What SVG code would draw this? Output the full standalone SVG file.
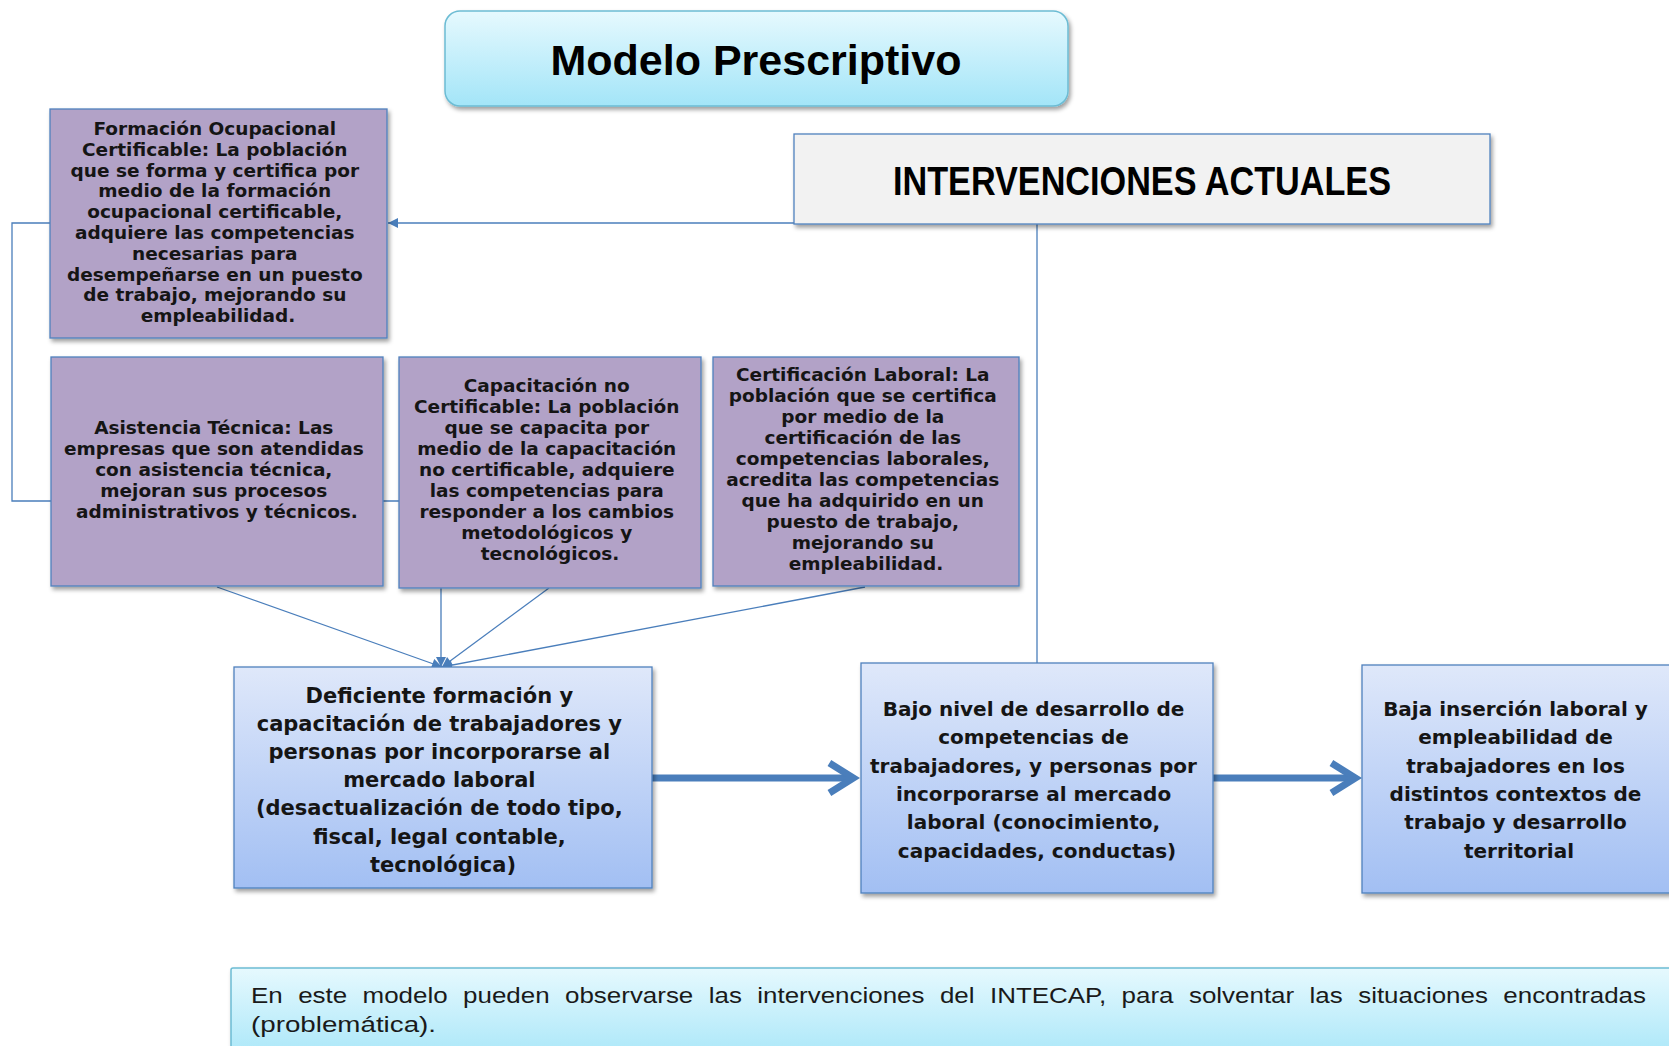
<svg xmlns="http://www.w3.org/2000/svg" width="1669" height="1046" viewBox="0 0 1669 1046">
<defs>
<linearGradient id="gCyan" x1="0" y1="0" x2="0" y2="1"><stop offset="0" stop-color="#e6f9fe"/><stop offset="1" stop-color="#a3e5f8"/></linearGradient>
<linearGradient id="gBlue" x1="0" y1="0" x2="0" y2="1"><stop offset="0" stop-color="#dfe8fa"/><stop offset="1" stop-color="#a2bff3"/></linearGradient>
<filter id="sh" x="-10%" y="-10%" width="125%" height="130%"><feDropShadow dx="2" dy="3" stdDeviation="2" flood-color="#000" flood-opacity="0.38"/></filter>
<marker id="tri" viewBox="0 0 10 10" refX="10" refY="5" markerWidth="11" markerHeight="10" markerUnits="userSpaceOnUse" orient="auto"><path d="M0,0 L10,5 L0,10 z" fill="#4a7ebb"/></marker>
<marker id="chev" viewBox="0 0 40 40" refX="30.6" refY="20" markerWidth="40" markerHeight="40" markerUnits="userSpaceOnUse" orient="auto" overflow="visible"><path d="M8,5 L32,20 L8,35" fill="none" stroke="#4a7ebb" stroke-width="7" stroke-linejoin="miter"/></marker>
<style>
.pbox{fill:#b2a2c7;stroke:#4f81bd;stroke-width:1.3;filter:url(#sh)}
.bbox{fill:url(#gBlue);stroke:#4f81bd;stroke-width:1.3;filter:url(#sh)}
.cbox{fill:url(#gCyan);stroke:#6cbcd4;stroke-width:1.5;filter:url(#sh)}
.gbox{fill:#f2f2f2;stroke:#4f81bd;stroke-width:1.3;filter:url(#sh)}
.pt{font-family:"DejaVu Sans",sans-serif;font-weight:bold;font-size:18.5px;fill:#151515;text-anchor:middle}
.bt{font-family:"DejaVu Sans",sans-serif;font-weight:bold;font-size:20px;fill:#151515;text-anchor:middle}
.bt21{font-size:21px}
.ht{font-family:"Liberation Sans",Arial,sans-serif;font-weight:bold;fill:#000;text-anchor:middle}
.nt{font-family:"Liberation Sans",Arial,sans-serif;font-size:22px;fill:#1a1a1a}
.conn{fill:none;stroke:#4a7ebb;stroke-width:1.3}
.thick{fill:none;stroke:#4a7ebb;stroke-width:7}
</style>
</defs>
<rect width="1669" height="1046" fill="#ffffff"/>

<g id="connectors">
<path class="conn" d="M794,223 H388" marker-end="url(#tri)"/>
<path class="conn" d="M1037,224 V663"/>
<path class="conn" d="M50,223 H12 V501 H441 V667" marker-end="url(#tri)"/>
<path class="conn" d="M217,587 L442,667" marker-end="url(#tri)"/>
<path class="conn" d="M549,588 L442,667" marker-end="url(#tri)"/>
<path class="conn" d="M865,587 L442,667" marker-end="url(#tri)"/>
<path class="thick" d="M652,778 H852" marker-end="url(#chev)"/>
<path class="thick" d="M1213,778 H1354" marker-end="url(#chev)"/>
</g>

<g id="title">
<rect class="cbox" x="445" y="11" width="623" height="95" rx="15" ry="15"/>
<text class="ht" x="756" y="75" font-size="43">Modelo Prescriptivo</text>
</g>

<g id="intervenciones">
<rect class="gbox" x="794" y="134" width="696" height="90"/>
<text class="ht" x="1142" y="195" font-size="40" textLength="498" lengthAdjust="spacingAndGlyphs">INTERVENCIONES ACTUALES</text>
</g>

<g id="formacion">
<rect class="pbox" x="50" y="109" width="337" height="229"/>
<text class="pt">
<tspan x="218" y="135">Formación  Ocupacional</tspan>
<tspan x="218" y="155.8">Certificable:  La población</tspan>
<tspan x="218" y="176.6">que se forma y certifica por</tspan>
<tspan x="218" y="197.4">medio de la formación</tspan>
<tspan x="218" y="218.2">ocupacional certificable,</tspan>
<tspan x="218" y="239">adquiere las competencias</tspan>
<tspan x="218" y="259.8">necesarias para</tspan>
<tspan x="218" y="280.6">desempeñarse en un puesto</tspan>
<tspan x="218" y="301.4">de trabajo, mejorando su</tspan>
<tspan x="218" y="322.2">empleabilidad.</tspan>
</text>
</g>

<g id="asistencia">
<rect class="pbox" x="51" y="357" width="332" height="229"/>
<text class="pt">
<tspan x="217" y="433.5">Asistencia Técnica: Las</tspan>
<tspan x="217" y="454.5">empresas que son atendidas</tspan>
<tspan x="217" y="475.5">con asistencia técnica,</tspan>
<tspan x="217" y="496.5">mejoran sus procesos</tspan>
<tspan x="217" y="517.5">administrativos y técnicos.</tspan>
</text>
</g>

<g id="capacitacion">
<rect class="pbox" x="399" y="357" width="302" height="231"/>
<text class="pt">
<tspan x="550" y="392">Capacitación no</tspan>
<tspan x="550" y="413">Certificable: La población</tspan>
<tspan x="550" y="434">que se capacita por</tspan>
<tspan x="550" y="455">medio de la capacitación</tspan>
<tspan x="550" y="476">no certificable, adquiere</tspan>
<tspan x="550" y="497">las competencias para</tspan>
<tspan x="550" y="518">responder a los cambios</tspan>
<tspan x="550" y="539">metodológicos y</tspan>
<tspan x="550" y="560">tecnológicos.</tspan>
</text>
</g>

<g id="certificacion">
<rect class="pbox" x="713" y="357" width="306" height="229"/>
<text class="pt">
<tspan x="866" y="381">Certificación Laboral: La</tspan>
<tspan x="866" y="402">población que se certifica</tspan>
<tspan x="866" y="423">por medio de la</tspan>
<tspan x="866" y="444">certificación de las</tspan>
<tspan x="866" y="465">competencias  laborales,</tspan>
<tspan x="866" y="486">acredita las competencias</tspan>
<tspan x="866" y="507">que ha adquirido en un</tspan>
<tspan x="866" y="528">puesto de trabajo,</tspan>
<tspan x="866" y="549">mejorando su</tspan>
<tspan x="866" y="570">empleabilidad.</tspan>
</text>
</g>

<g id="deficiente">
<rect class="bbox" x="234" y="667" width="418" height="221"/>
<text class="bt bt21">
<tspan x="443" y="702.5">Deficiente formación y</tspan>
<tspan x="443" y="730.7">capacitación de trabajadores y</tspan>
<tspan x="443" y="758.9">personas por incorporarse al</tspan>
<tspan x="443" y="787.1">mercado laboral</tspan>
<tspan x="443" y="815.3">(desactualización de todo tipo,</tspan>
<tspan x="443" y="843.5">fiscal, legal contable,</tspan>
<tspan x="443" y="871.7">tecnológica)</tspan>
</text>
</g>

<g id="bajo-nivel">
<rect class="bbox" x="861" y="663" width="352" height="230"/>
<text class="bt">
<tspan x="1037" y="716">Bajo nivel de desarrollo de</tspan>
<tspan x="1037" y="744.3">competencias de</tspan>
<tspan x="1037" y="772.6">trabajadores, y personas por</tspan>
<tspan x="1037" y="800.9">incorporarse al mercado</tspan>
<tspan x="1037" y="829.2">laboral (conocimiento,</tspan>
<tspan x="1037" y="857.5">capacidades, conductas)</tspan>
</text>
</g>

<g id="baja-insercion">
<rect class="bbox" x="1362" y="665" width="318" height="228"/>
<text class="bt">
<tspan x="1519" y="716">Baja inserción laboral y</tspan>
<tspan x="1519" y="744.3">empleabilidad de</tspan>
<tspan x="1519" y="772.6">trabajadores en los</tspan>
<tspan x="1519" y="800.9">distintos contextos de</tspan>
<tspan x="1519" y="829.2">trabajo y desarrollo</tspan>
<tspan x="1519" y="857.5">territorial</tspan>
</text>
</g>

<g id="nota">
<rect class="cbox" x="231" y="968" width="1460" height="100" rx="2"/>
<text class="nt" x="251" y="1003" word-spacing="7" textLength="1395" lengthAdjust="spacingAndGlyphs">En este modelo pueden observarse las intervenciones del INTECAP, para solventar las situaciones encontradas</text>
<text class="nt" x="251" y="1032" textLength="185" lengthAdjust="spacingAndGlyphs">(problemática).</text>
</g>
</svg>
